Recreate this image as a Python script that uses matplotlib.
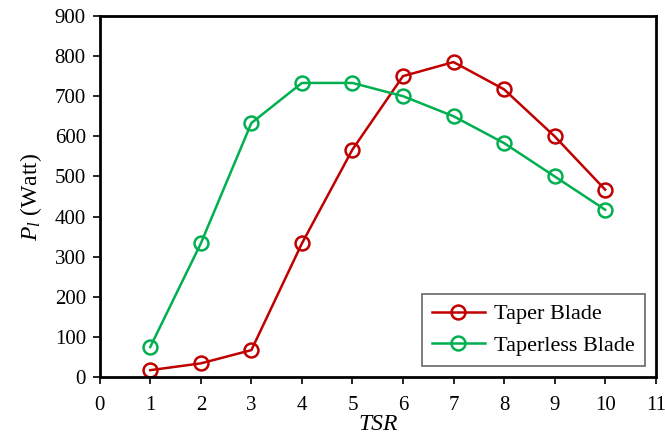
import matplotlib.pyplot as plt

# tip speed ratio
tsr = [1, 2, 3, 4, 5, 6, 7, 8, 9, 10]

# power output (Watt)
taper = [17, 34, 67, 333, 567, 750, 785, 717, 600, 467]
taperless = [75, 333, 633, 733, 733, 700, 650, 583, 500, 417]

xticks = list(range(0, 12))
yticks = list(range(0, 1000, 100))

plt.rcParams['font.family'] = ['Liberation Serif', 'DejaVu Serif']
plt.rcParams['mathtext.fontset'] = 'custom'
plt.rcParams['mathtext.rm'] = 'Liberation Serif'
plt.rcParams['mathtext.it'] = 'Liberation Serif:italic'

fig = plt.figure(figsize=(6.65, 4.43), dpi=100)
ax = fig.add_axes([0.150, 0.149, 0.836, 0.815])

ax.plot(tsr, taper, color='#C00000', marker='o', markersize=10, markerfacecolor='none',
        markeredgewidth=1.8, linewidth=1.8, label='Taper Blade')
ax.plot(tsr, taperless, color='#00B050', marker='o', markersize=10, markerfacecolor='none',
        markeredgewidth=1.8, linewidth=1.8, label='Taperless Blade')

ax.set_xlim(0, 11)
ax.set_ylim(0, 900)
ax.set_xticks(xticks)
ax.set_yticks(yticks)
ax.tick_params(axis='x', direction='out', length=5, width=1.2, labelsize=15, pad=9)
ax.tick_params(axis='y', direction='out', length=5, width=1.2, labelsize=15, pad=5)
for s in ax.spines.values():
    s.set_linewidth(2)

ax.set_xlabel('TSR', fontsize=17, style='italic', labelpad=-1)
ax.set_ylabel(r'$P_l$ (Watt)', fontsize=17, labelpad=8)

leg = ax.legend(loc='lower right', fontsize=16, fancybox=False, edgecolor='#404040',
                handlelength=2.4, handletextpad=0.4, borderpad=0.45, labelspacing=0.5,
                borderaxespad=0, bbox_to_anchor=(0.98, 0.03))
leg.get_frame().set_linewidth(1.2)

fig.savefig('out.png', dpi=100)
